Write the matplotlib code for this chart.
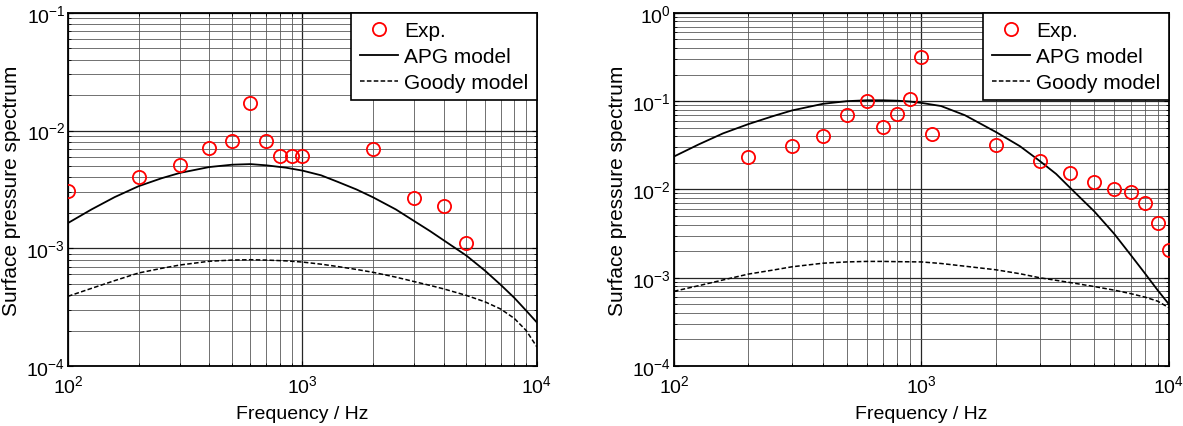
import numpy as np
import matplotlib
matplotlib.use("Agg")
import matplotlib.pyplot as plt

plt.rcParams['font.family'] = ['Liberation Sans', 'DejaVu Sans']
plt.rcParams['mathtext.default'] = 'regular'
plt.rcParams['font.size'] = 14

# left panel
f_exp_a = [100, 200, 300, 400, 500, 600, 700, 800, 900, 1000, 2000, 3000, 4000, 5000]
p_exp_a = [3.05e-3, 4.07e-3, 5.1e-3, 7.1e-3, 8.1e-3, 1.7e-2, 8.1e-3, 6.05e-3, 6.05e-3, 6.05e-3,
           7.0e-3, 2.7e-3, 2.3e-3, 1.1e-3]
f_mod_a = [100, 126, 158, 200, 251, 300, 400, 500, 600, 700, 850, 1000, 1200, 1413, 1700,
           2000, 2500, 3000, 3500, 4000, 5000, 6000, 7000, 8000, 9000, 10000]
apg_a = [1.64e-3, 2.14e-3, 2.72e-3, 3.37e-3, 3.94e-3, 4.37e-3, 4.90e-3, 5.13e-3, 5.19e-3, 5.07e-3,
         4.84e-3, 4.57e-3, 4.17e-3, 3.67e-3, 3.16e-3, 2.71e-3, 2.14e-3, 1.70e-3, 1.40e-3, 1.17e-3,
         8.67e-4, 6.46e-4, 4.90e-4, 3.80e-4, 2.95e-4, 2.34e-4]
goody_a = [3.91e-4, 4.57e-4, 5.31e-4, 6.17e-4, 6.76e-4, 7.21e-4, 7.76e-4, 7.94e-4, 8.00e-4, 7.94e-4,
           7.82e-4, 7.64e-4, 7.33e-4, 7.00e-4, 6.61e-4, 6.25e-4, 5.69e-4, 5.21e-4, 4.84e-4, 4.52e-4,
           3.98e-4, 3.51e-4, 3.05e-4, 2.54e-4, 2.00e-4, 1.45e-4]

# right panel
f_exp_b = [200, 300, 400, 500, 600, 700, 800, 900, 1000, 1100, 2000, 3000, 4000, 5000,
           6000, 7000, 8000, 9000, 10000]
p_exp_b = [2.32e-2, 3.08e-2, 4.0e-2, 6.95e-2, 1.0e-1, 5.06e-2, 7.1e-2, 1.05e-1, 3.2e-1, 4.2e-2,
           3.2e-2, 2.1e-2, 1.55e-2, 1.22e-2, 1.0e-2, 9.3e-3, 7.1e-3, 4.2e-3, 2.05e-3]
f_apg_b = [100, 126, 158, 200, 251, 300, 400, 500, 600, 700, 800, 900, 1000, 1200, 1500,
           2000, 2500, 3000, 3500, 4000, 5000, 6000, 7000, 8000, 9000, 10000]
apg_b = [2.36e-2, 3.24e-2, 4.32e-2, 5.50e-2, 6.76e-2, 7.85e-2, 9.33e-2, 1.0e-1, 1.023e-1, 1.023e-1,
         1.012e-1, 9.89e-2, 9.55e-2, 8.81e-2, 6.92e-2, 4.47e-2, 3.09e-2, 2.11e-2, 1.50e-2, 1.035e-2,
         5.62e-3, 3.16e-3, 1.82e-3, 1.12e-3, 7.24e-4, 5.01e-4]
f_goody_b = [100, 126, 158, 200, 251, 300, 400, 500, 600, 700, 800, 1000, 1200, 1500, 2000,
             2500, 3000, 4000, 5000, 6000, 7000, 8000, 9000, 10000]
goody_b = [7.02e-4, 8.13e-4, 9.44e-4, 1.10e-3, 1.22e-3, 1.33e-3, 1.46e-3, 1.51e-3, 1.53e-3, 1.53e-3,
           1.52e-3, 1.51e-3, 1.45e-3, 1.35e-3, 1.23e-3, 1.11e-3, 1.00e-3, 8.81e-4, 7.94e-4, 7.24e-4,
           6.61e-4, 6.03e-4, 5.43e-4, 4.57e-4]

fig = plt.figure(figsize=(11.83, 4.27), dpi=100)
ax1 = fig.add_axes([0.0575, 0.1405, 0.3964, 0.827])
ax2 = fig.add_axes([0.5697, 0.1405, 0.4184, 0.827])


def panel(ax, fe, pe, fa, apg, fg, goody, ylim):
    ax.loglog(fe, pe, 'o', mfc='none', mec='red', ms=9.5, mew=1.3, label='Exp.', zorder=5)
    ax.loglog(fa, apg, 'k-', lw=1.3, label='APG model')
    ax.loglog(fg, goody, 'k--', lw=1.1, dashes=(3, 1.5), label='Goody model')
    ax.set_xlim(100, 10000)
    ax.set_ylim(*ylim)
    ax.grid(True, which='major', color='0.15', lw=0.9)
    ax.grid(True, which='minor', color='0.35', lw=0.6)
    ax.tick_params(which='both', direction='in', top=True, right=True, labelsize=14)
    ax.tick_params(axis='x', pad=6)
    ax.tick_params(axis='y', pad=2)
    for s in ax.spines.values():
        s.set_linewidth(1.3)
    ax.set_xlabel('Frequency / Hz', fontsize=14, labelpad=6)
    ax.set_ylabel('Surface pressure spectrum', fontsize=15, labelpad=4)
    leg = ax.legend(loc='upper right', fancybox=False, framealpha=1, edgecolor='k',
                    borderaxespad=0, handlelength=1.85, handletextpad=0.3, borderpad=0.4,
                    labelspacing=0.33, fontsize=15)
    leg.get_frame().set_linewidth(1.2)


panel(ax1, f_exp_a, p_exp_a, f_mod_a, apg_a, f_mod_a, goody_a, (1e-4, 1e-1))
panel(ax2, f_exp_b, p_exp_b, f_apg_b, apg_b, f_goody_b, goody_b, (1e-4, 1e0))

fig.savefig('out.png', dpi=100)
